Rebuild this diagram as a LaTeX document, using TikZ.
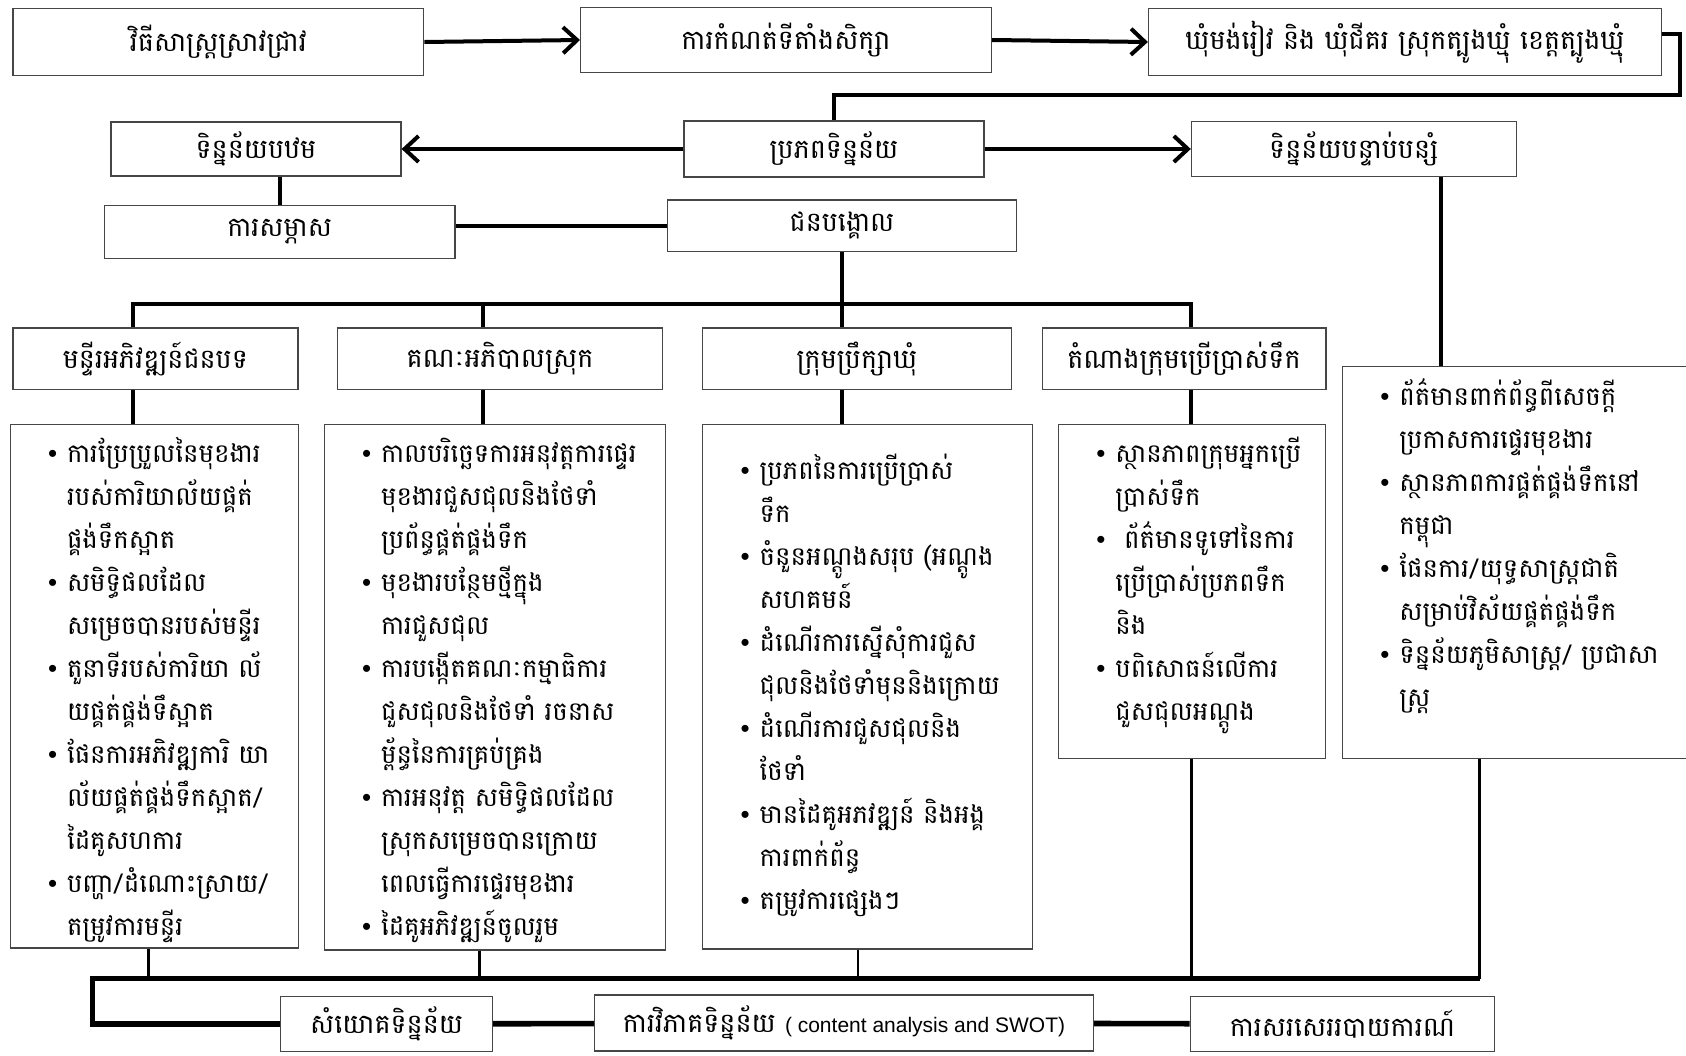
\documentclass[tikz,border=0pt]{standalone}
\usepackage{fontspec}
\setmainfont[Script=Khmer]{Battambang}
\newfontfamily\latinfont{Liberation Sans}
\usepackage{xcolor}
\definecolor{frame-gray}{RGB}{70,70,70}
\usetikzlibrary{arrows.meta,positioning}

\newcommand{\headfont}{\fontsize{13.5}{16}\selectfont}
\newcommand{\listfont}{\fontsize{13}{21.5}\selectfont}
\newcommand{\bitem}[1]{\par\hangindent=9.5pt\hangafter=1\noindent\makebox[9.5pt][l]{\latinfont\textbullet}#1}

\begin{document}
\begin{tikzpicture}[x=1pt, y=-1pt,
    box/.style={draw=frame-gray, line width=0.6pt, inner sep=0pt, align=center, font=\headfont},
    list frame/.style={draw=frame-gray, line width=0.6pt, anchor=north west, inner sep=0pt},
    list text/.style={anchor=north west, inner sep=0pt, align=left, font=\listfont},
    link/.style={line width=2pt},
    thin link/.style={line width=1.3pt},
    bus/.style={line width=2.8pt},
    flow/.style={link, -{Straight Barb[length=7pt,width=13pt]}}
]
\useasboundingbox (0,0) rectangle (843,527.5);

% Top row: method, site, location
\node[box, minimum width=205.4pt, minimum height=33.3pt] (method) at (109.2,21) {វិធីសាស្ត្រស្រាវជ្រាវ};
\node[box, minimum width=205.4pt, minimum height=32.3pt] (site) at (393,20) {ការកំណត់ទីតាំងសិក្សា};
\node[box, minimum width=256.5pt, minimum height=33.3pt] (location) at (702.5,21) {ឃុំមង់រៀវ និង ឃុំជីគរ ស្រុកត្បូងឃ្មុំ ខេត្តត្បូងឃ្មុំ};

% Data sources
\node[box, minimum width=145pt, minimum height=27pt] (primary) at (128,74.5) {ទិន្នន័យបឋម};
\node[box, minimum width=150pt, minimum height=28pt] (source) at (417,74.5) {ប្រភពទិន្នន័យ};
\node[box, minimum width=162.4pt, minimum height=27.4pt] (secondary) at (676.9,74.5) {ទិន្នន័យបន្ទាប់បន្សំ};

\node[box, minimum width=175.3pt, minimum height=26.3pt] (interview) at (139.8,115.9) {ការសម្ភាស};
\node[box, minimum width=174.2pt, minimum height=25.8pt] (informant) at (421,112.9) {ជនបង្គោល};

% Key informant groups
\node[box, minimum width=142.5pt, minimum height=30.6pt] (hrural) at (77.7,179.3) {មន្ទីរអភិវឌ្ឍន៍ជនបទ};
\node[box, minimum width=162.4pt, minimum height=30.6pt] (hdistrict) at (250,179.3) {គណៈអភិបាលស្រុក};
\node[box, minimum width=154.8pt, minimum height=30.6pt] (hcommune) at (428.5,179.3) {ក្រុមប្រឹក្សាឃុំ};
\node[box, minimum width=141.9pt, minimum height=30.6pt] (hwater) at (592,179.3) {តំណាងក្រុមប្រើប្រាស់ទឹក};

% Topic lists (frame first, text placed inside)
\node[list frame, minimum width=144.1pt, minimum height=261.9pt] (rurallist) at (4.8,211.8) {};
\node[list text, text width=124pt] (ruraltext) at ([xshift=19pt,yshift=2.5pt]rurallist.north west) {%
\bitem{ការប្រែប្រួលនៃមុខងារ\newline របស់ការិយាល័យផ្គត់\newline ផ្គង់ទឹកស្អាត}
\bitem{សមិទ្ធិផលដែល\newline សម្រេចបានរបស់មន្ទីរ}
\bitem{តួនាទីរបស់ការិយា~ល័\newline យផ្គត់ផ្គង់ទឹស្អាត}
\bitem{ផែនការអភិវឌ្ឍការិ~យា\newline ល័យផ្គត់ផ្គង់ទឹកស្អាត/\newline ដៃគូសហការ}
\bitem{បញ្ហា/ដំណោះស្រាយ/\newline តម្រូវការមន្ទីរ}\par};

\node[list frame, minimum width=170.5pt, minimum height=262.9pt] (distlist) at (161.8,211.8) {};
\node[list text, text width=150pt] (disttext) at ([xshift=19pt,yshift=2.5pt]distlist.north west) {%
\bitem{កាលបរិច្ឆេទការអនុវត្តការផ្ទេរ\newline មុខងារជួសជុលនិងថែទាំ\newline ប្រព័ន្ធផ្គត់ផ្គង់ទឹក}
\bitem{មុខងារបន្ថែមថ្មីក្នុង\newline ការជួសជុល}
\bitem{ការបង្កើតគណៈកម្មាធិការ\newline ជួសជុលនិងថែទាំ~រចនាស\newline ម្ព័ន្ធនៃការគ្រប់គ្រង}
\bitem{ការអនុវត្ត~សមិទ្ធិផលដែល\newline ស្រុកសម្រេចបានក្រោយ\newline ពេលធ្វើការផ្ទេរមុខងារ}
\bitem{ដៃគូអភិវឌ្ឍន៍ចូលរួម}\par};

\node[list frame, minimum width=165pt, minimum height=262.4pt] (comlist) at (351.1,211.8) {};
\node[list text, text width=145pt] (comtext) at ([xshift=19pt,yshift=-6pt]comlist.north west) {%
\bitem{ប្រភពនៃការប្រើប្រាស់\newline ទឹក}
\bitem{ចំនួនអណ្តូងសរុប~(អណ្តូង\newline សហគមន៍}
\bitem{ដំណើរការស្នើសុំការជួស\newline ជុលនិងថែទាំមុននិងក្រោយ}
\bitem{ដំណើរការជួសជុលនិង\newline ថែទាំ}
\bitem{មានដៃគូអភវឌ្ឍន៍~និងអង្គ\newline ការពាក់ព័ន្ធ}
\bitem{តម្រូវការផ្សេងៗ}\par};

\node[list frame, minimum width=133.4pt, minimum height=167.2pt] (waterlist) at (529,211.8) {};
\node[list text, text width=113pt] (watertext) at ([xshift=19pt,yshift=2.5pt]waterlist.north west) {%
\bitem{ស្ថានភាពក្រុមអ្នកប្រើ\newline ប្រាស់ទឹក}
\bitem{\ ព័ត៌មានទូទៅនៃការ\newline ប្រើប្រាស់ប្រភពទឹក\newline និង}
\bitem{បពិសោធន៍លើការ\newline ជួសជុលអណ្តូង}\par};

\node[list frame, minimum width=173pt, minimum height=196.2pt] (seclist) at (671,182.8) {};
\node[list text, text width=150pt] (sectext) at ([xshift=19pt,yshift=2pt]seclist.north west) {%
\bitem{ព័ត៌មានពាក់ព័ន្ធពីសេចក្តី\newline ប្រកាសការផ្ទេរមុខងារ}
\bitem{ស្ថានភាពការផ្គត់ផ្គង់ទឹកនៅ\newline កម្ពុជា}
\bitem{ផែនការ/យុទ្ធសាស្ត្រជាតិ\newline សម្រាប់វិស័យផ្គត់ផ្គង់ទឹក}
\bitem{ទិន្នន័យភូមិសាស្ត្រ/~ប្រជាសា\newline ស្ត្រ}\par};

% Bottom row
\node[box, minimum width=105.9pt, minimum height=27.4pt] (synthesis) at (193.3,512) {សំយោគទិន្នន័យ};
\node[box, minimum width=249.5pt, minimum height=28pt] (analysis) at (422,511.5) {ការវិភាគទិន្នន័យ {\latinfont\fontsize{10.5}{12}\selectfont ( content analysis and SWOT)}};
\node[box, minimum width=152.1pt, minimum height=27.4pt] (report) at (671.2,512) {ការសរសេររបាយការណ៍};

% Connectors
\draw[flow] (method.east) -- (site.west);
\draw[flow] (site.east) -- (location.west);
\draw[link] ([yshift=4pt]location.east) -| (839.8,47.3) -| (source.north);

\draw[flow] (source.west) -- (primary.east);
\draw[flow] (source.east) -- (secondary.west);
\draw[link] (interview.north |- primary.south) -- (interview.north);
\draw[link] (interview.east |- informant.west) -- (informant.west);

\draw[link] (informant.south) -- (informant.south |- hcommune.north);
\draw[link] (66.7,0 |- hrural.north) |- (595.7,152.2) -- (595.7,0 |- hwater.north);
\draw[link] (241.4,152.2) -- (241.4,0 |- hdistrict.north);

\draw[link] (66.7,0 |- hrural.south) -- (66.7,0 |- rurallist.north);
\draw[link] (241.4,0 |- hdistrict.south) -- (241.4,0 |- distlist.north);
\draw[link] (421,0 |- hcommune.south) -- (421,0 |- comlist.north);
\draw[link] (595.7,0 |- hwater.south) -- (595.7,0 |- waterlist.north);
\draw[link] (720.4,0 |- secondary.south) -- (720.4,0 |- seclist.north);

% Lists gathered into the synthesis
\draw[thin link] (74.2,0 |- rurallist.south) -- (74.2,489.3);
\draw[thin link] (239.8,0 |- distlist.south) -- (239.8,489.3);
\draw[thin link] (429,0 |- comlist.south) -- (429,489.3);
\draw[thin link] (595.7,0 |- waterlist.south) -- (595.7,489.3);
\draw[thin link] (739.8,0 |- seclist.south) -- (739.8,489.3);
\draw[bus] (739.8,489.3) -- (46.2,489.3) |- (synthesis.west);
\draw[bus] (synthesis) -- (analysis);
\draw[bus] (analysis) -- (report);

\end{tikzpicture}
\end{document}
